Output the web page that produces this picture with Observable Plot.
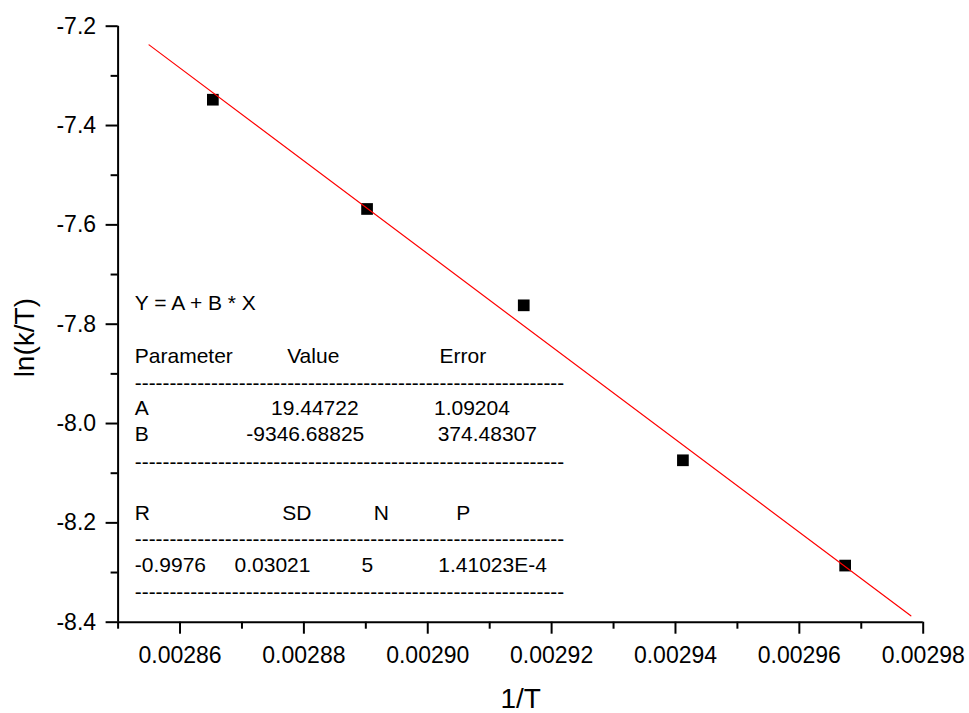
<!DOCTYPE html>
<html>
<head>
<meta charset="utf-8">
<script src="https://cdn.jsdelivr.net/npm/d3@7"></script>
<script src="https://cdn.jsdelivr.net/npm/@observablehq/plot@0.6"></script>
<style>
  body { margin: 0; background: #fff; }
</style>
</head>
<body>
<div id="chart"></div>
<script>
// Measured points: reciprocal temperature vs ln(k/T)
const invT = [0.0028653, 0.0028902, 0.0029155, 0.0029412, 0.0029674];
const lnKT = [-7.348, -7.568, -7.762, -8.074, -8.286];

// Linear fit Y = A + B * X and the span it is drawn over
const A = 19.44722;
const B = -9346.68825;
const fitSpan = [0.002855, 0.002978];

// Tick values
const xMajor = [0.00286, 0.00288, 0.00290, 0.00292, 0.00294, 0.00296, 0.00298];
const xMinor = [0.00285, 0.00287, 0.00289, 0.00291, 0.00293, 0.00295, 0.00297];
const yMajor = [-8.4, -8.2, -8.0, -7.8, -7.6, -7.4, -7.2];
const yMinor = [-8.3, -8.1, -7.9, -7.7, -7.5, -7.3];

// Fit report text
const equation = "Y = A + B * X";
const paramHeader = ["Parameter", "Value", "Error"];
const rowA = ["A", "19.44722", "1.09204"];
const rowB = ["B", "-9346.68825", "374.48307"];
const statHeader = ["R", "SD", "N", "P"];
const statValues = ["-0.9976", "0.03021", "5", "1.41023E-4"];
const separator = "-".repeat(62);

// Report layout (anchors in data units)
const reportLeft = 0.0028527;
const reportRows = [
  {texts: [equation], xs: [reportLeft], y: -7.7577},
  {texts: paramHeader, xs: [reportLeft, 0.0028773, 0.0029019], y: -7.865},
  {texts: rowA, xs: [reportLeft, 0.0028747, 0.0029010], y: -7.969},
  {texts: rowB, xs: [reportLeft, 0.0028707, 0.0029016], y: -8.022},
  {texts: statHeader, xs: [reportLeft, 0.0028765, 0.0028913, 0.0029046], y: -8.1805},
  {texts: statValues, xs: [reportLeft, 0.0028688, 0.0028893, 0.0029017], y: -8.2858}
];
const separatorYs = [-7.9187, -8.0778, -8.234, -8.3395];

const points = invT.map((x, i) => ({x, y: lnKT[i]}));
const fitLine = fitSpan.map(x => ({x, y: A + B * x}));
const reportCells = reportRows.flatMap(r => r.texts.map((t, i) => ({t, x: r.xs[i], y: r.y})));
const separatorCells = separatorYs.map(y => ({t: separator, x: reportLeft, y}));

const font = "'Liberation Sans', Arial, Helvetica, sans-serif";

const chart = Plot.plot({
  width: 969,
  height: 713,
  marginLeft: 117.6,
  marginRight: 46.3,
  marginTop: 25.7,
  marginBottom: 91.3,
  style: {fontFamily: font, background: "#fff", color: "#000", overflow: "visible"},
  x: {domain: [0.00285, 0.00298]},
  y: {domain: [-8.4, -7.2]},
  marks: [
    // minor ticks
    Plot.axisX({ticks: xMinor, tickSize: 7, strokeWidth: 2, tickFormat: () => "", label: null}),
    Plot.axisY({ticks: yMinor, tickSize: 7, strokeWidth: 2, tickFormat: () => "", label: null}),
    // major ticks with labels
    Plot.axisX({ticks: xMajor, tickSize: 12, tickPadding: 12, strokeWidth: 2,
      tickFormat: d => d.toFixed(5), fontSize: 23, label: null}),
    Plot.axisY({ticks: yMajor, tickSize: 12, tickPadding: 10, strokeWidth: 2,
      tickFormat: d => d.toFixed(1), fontSize: 23, label: null}),
    // axis lines
    Plot.ruleY([-8.4], {stroke: "#000", strokeWidth: 2}),
    Plot.ruleX([0.00285], {stroke: "#000", strokeWidth: 2}),
    // axis titles
    Plot.text(["1/T"], {frameAnchor: "bottom", dy: 77.3, fontSize: 28, textAnchor: "middle", lineAnchor: "middle", fill: "#000"}),
    Plot.text(["ln(k/T)"], {frameAnchor: "left", dx: -92.6, dy: 13.5, rotate: -90, fontSize: 28, textAnchor: "middle", lineAnchor: "middle", fill: "#000"}),
    // fit report
    Plot.text(reportCells, {x: "x", y: "y", text: "t", textAnchor: "start", lineAnchor: "middle", fontSize: 21, fill: "#000"}),
    Plot.text(separatorCells, {x: "x", y: "y", text: "t", textAnchor: "start", lineAnchor: "middle", fontSize: 20.8, fill: "#000"}),
    // data points and fitted line
    Plot.dot(points, {x: "x", y: "y", symbol: "square", r: 6.6, fill: "#000", stroke: null}),
    Plot.line(fitLine, {x: "x", y: "y", stroke: "#ff0000", strokeWidth: 1.2})
  ]
});

document.getElementById("chart").appendChild(chart);
</script>
</body>
</html>
